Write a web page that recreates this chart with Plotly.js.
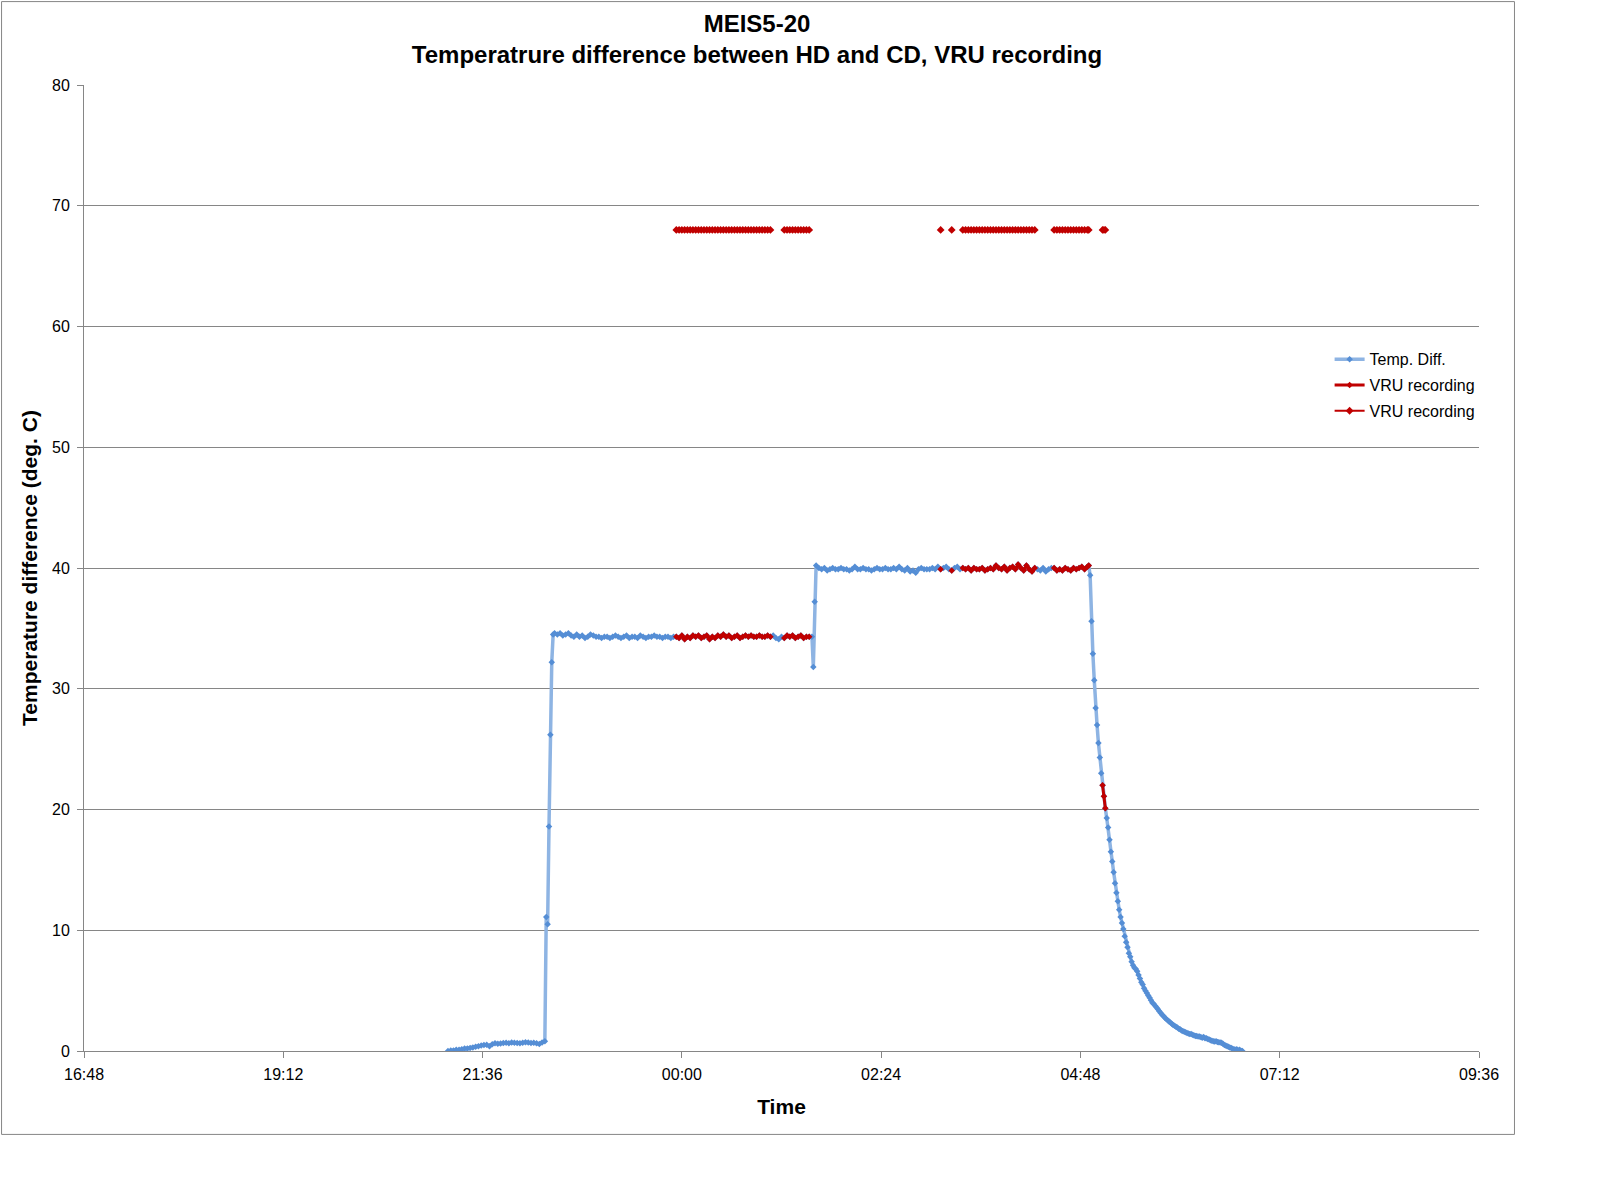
<!DOCTYPE html>
<html>
<head>
<meta charset="utf-8">
<script src="https://cdn.plot.ly/plotly-3.0.1.min.js"></script>
<style>
html,body{margin:0;padding:0;background:#fff;}
#chart{width:1598px;height:1202px;}
</style>
</head>
<body>
<div id="chart"></div>
<script>
// Time is expressed in minutes after 16:48 (axis start)
const tickMinutes = [0, 144, 288, 432, 576, 720, 864, 1008];
const tickLabels = ['16:48', '19:12', '21:36', '00:00', '02:24', '04:48', '07:12', '09:36'];

const earlyTimes = [263,265,267,269,271,273,275,277,279,281,283,285,287,289,291,293,295,297,299,301,303,305,307,309,311,313,315,317,319,321,323,325,327,329,331,333];
const earlyValues = [0.0,0.05,0.05,0.1,0.1,0.15,0.2,0.2,0.25,0.3,0.35,0.4,0.45,0.5,0.52,0.4,0.55,0.65,0.6,0.62,0.66,0.68,0.64,0.7,0.68,0.66,0.64,0.68,0.72,0.7,0.66,0.68,0.64,0.58,0.7,0.8];

const riseTimes = [334,335,336,337,338,339];
const riseValues = [11.1,10.5,18.6,26.2,32.2,34.5];

const plateau1Times = [340,342,344,346,348,350,352,354,356,358,360,362,364,366,368,370,372,374,376,378,380,382,384,386,388,390,392,394,396,398,400,402,404,406,408,410,412,414,416,418,420,422,424,426,428,430,432,434,436,438,440,442,444,446,448,450,452,454,456,458,460,462,464,466,468,470,472,474,476,478,480,482,484,486,488,490,492,494,496,498,500,502,504,506,508,510,512,514,516,518,520,522,524,526];
const plateau1Values = [34.6,34.5,34.6,34.4,34.5,34.6,34.4,34.3,34.5,34.3,34.4,34.2,34.3,34.5,34.4,34.3,34.3,34.2,34.3,34.3,34.2,34.3,34.4,34.3,34.2,34.3,34.4,34.2,34.3,34.3,34.2,34.4,34.3,34.2,34.3,34.3,34.4,34.3,34.3,34.2,34.3,34.3,34.2,34.3,34.3,34.2,34.4,34.1,34.3,34.2,34.4,34.3,34.4,34.2,34.3,34.4,34.1,34.3,34.2,34.4,34.3,34.5,34.3,34.4,34.2,34.3,34.4,34.2,34.3,34.4,34.3,34.4,34.3,34.3,34.4,34.3,34.3,34.4,34.3,34.4,34.2,34.1,34.3,34.2,34.4,34.3,34.4,34.2,34.3,34.4,34.2,34.3,34.3,34.3];

const stepTimes = [527,528];
const stepValues = [31.8,37.2];

const plateau2Times = [529,531,533,535,537,539,541,543,545,547,549,551,553,555,557,559,561,563,565,567,569,571,573,575,577,579,581,583,585,587,589,591,593,595,597,599,601,603,605,607,609,611,613,615,617,619,621,623,625,627,629,631,633,635,637,639,641,643,645,647,649,651,653,655,657,659,661,663,665,667,669,671,673,675,677,679,681,683,685,687,689,691,693,695,697,699,701,703,705,707,709,711,713,715,717,719,721,723,725];
const plateau2Values = [40.2,40.0,39.9,40.0,39.8,39.9,40.0,39.9,39.9,40.0,39.9,39.9,39.8,39.9,40.1,39.9,39.9,40.0,39.9,39.9,39.8,39.9,40.0,39.9,39.9,40.0,39.9,39.9,40.0,39.9,40.1,39.9,39.8,40.0,39.7,39.8,39.6,39.9,40.0,39.9,39.9,39.9,40.0,39.9,40.1,39.9,40.0,40.1,39.9,39.8,40.0,40.1,39.9,40.0,39.9,40.0,39.8,40.0,39.9,39.9,40.0,39.8,39.9,40.0,39.9,40.2,40.0,39.9,40.1,39.8,40.0,40.1,39.9,40.3,40.0,39.8,40.2,39.9,39.7,40.0,39.9,39.8,40.0,39.7,39.9,40.0,40.0,39.8,39.9,39.8,40.0,39.9,39.8,40.0,39.9,40.0,40.1,39.9,40.1];

const descentTimes = [726,727,728,729,730,731,732,733,734,735,736,737,738,739,740,741,742,743,744,745,746,747,748,749,750,751,752,753,754,755,756,757,758,759,760,761,762,763,764,765,766,767,768,769,770,771,772,773,774,775,776,777,778,779,780,781,782,783,784,785,786,787,788,789,790,791,792,793,794,795,796,797,798,799,800,801,802,803,804,805,806,807,808,809,810,811,812,813,814,815,816,817,818,819,820,821,822,823,824,825,826,827,828,829,830,831,832,833,834,835,836,837];
const descentValues = [40.2,39.4,35.6,32.9,30.7,28.4,27.0,25.5,24.3,23.0,22.0,21.1,20.1,19.3,18.5,17.5,16.5,15.7,14.8,13.9,13.1,12.4,11.7,11.1,10.6,10.1,9.5,9.0,8.6,8.1,7.8,7.4,7.1,6.9,6.8,6.6,6.3,6.0,5.7,5.5,5.2,5.0,4.8,4.6,4.4,4.2,4.0,3.9,3.75,3.6,3.45,3.3,3.15,3.0,2.9,2.75,2.65,2.55,2.45,2.35,2.25,2.15,2.1,2.0,1.95,1.85,1.8,1.7,1.65,1.6,1.55,1.5,1.45,1.4,1.4,1.35,1.3,1.25,1.25,1.2,1.2,1.15,1.1,1.15,1.05,1.05,1.0,0.95,0.9,0.85,0.8,0.78,0.8,0.75,0.72,0.7,0.68,0.6,0.5,0.45,0.4,0.35,0.3,0.25,0.18,0.15,0.1,0.15,0.05,0.1,0.03,0.0];

// VRU recording periods (minutes after 16:48), start and end
const vruStart = [428, 505, 619, 627, 634, 701, 736];
const vruEnd   = [496, 525, 619, 627, 688, 726, 738];
const vruMarkerLevel = 68;

const pairs = [[earlyTimes,earlyValues],[riseTimes,riseValues],[plateau1Times,plateau1Values],[stepTimes,stepValues],[plateau2Times,plateau2Values],[descentTimes,descentValues]];
pairs.forEach(function(p, i){ if (p[0].length !== p[1].length) throw new Error('length mismatch in segment ' + i + ': ' + p[0].length + ' vs ' + p[1].length); });

const tempTimes = [].concat(earlyTimes, riseTimes, plateau1Times, stepTimes, plateau2Times, descentTimes);
const tempValues = [].concat(earlyValues, riseValues, plateau1Values, stepValues, plateau2Values, descentValues);

function recording(t){
  for (let i = 0; i < vruStart.length; i++) { if (t >= vruStart[i] && t <= vruEnd[i]) return true; }
  return false;
}
const vruOnLine = tempTimes.map(function(t, i){ return recording(t) ? tempValues[i] : null; });
const vruLevel = tempTimes.map(function(t){ return recording(t) ? vruMarkerLevel : null; });

const FONT = 'Liberation Sans, Arial, sans-serif';
const red = '#C00000';

const traces = [
  {
    x: tempTimes, y: tempValues, name: 'Temp. Diff.', type: 'scatter', mode: 'lines+markers',
    legendgroup: 'g1',
    line: {color: '#8EB4E3', width: 3.5},
    marker: {symbol: 'diamond', size: 5, color: '#558ED5'}
  },
  {
    x: tempTimes, y: vruOnLine, name: 'VRU recording', type: 'scatter', mode: 'lines+markers',
    legendgroup: 'g2', connectgaps: false,
    line: {color: red, width: 3},
    marker: {symbol: 'diamond', size: 5, color: red}
  },
  {
    x: tempTimes, y: vruLevel, name: 'VRU recording', type: 'scatter', mode: 'lines+markers',
    legendgroup: 'g3', connectgaps: false,
    line: {color: red, width: 2},
    marker: {symbol: 'diamond', size: 6, color: red}
  }
];

const grey = '#868686';
const L = 83.5, T = 84.5, R = 1479.5, B = 1051.5, W = 1598, H = 1202;
const pw = R - L, ph = B - T;

const layout = {
  width: W, height: H,
  paper_bgcolor: '#fff', plot_bgcolor: '#fff',
  margin: {l: L, r: W - R, t: T, b: H - B, pad: 0},
  font: {family: FONT, color: '#000', size: 16},
  showlegend: true,
  title: {
    text: '<b>MEIS5-20</b><br><b>Temperatrure difference between HD and CD, VRU recording</b>',
    font: {family: FONT, size: 24, color: '#000'},
    x: 757 / W, xref: 'container', xanchor: 'center',
    y: 1 - 32 / H, yref: 'container', yanchor: 'top'
  },
  xaxis: {
    range: [0, 1008],
    tickmode: 'array', tickvals: tickMinutes, ticktext: tickLabels,
    showgrid: false, zeroline: false,
    showline: true, linecolor: grey, linewidth: 1,
    ticks: 'outside', ticklen: 6, tickcolor: grey, tickwidth: 1,
    ticklabelstandoff: 3,
    tickfont: {family: FONT, size: 16, color: '#000'},
    title: {text: '<b>Time</b>', font: {family: FONT, size: 21, color: '#000'}, standoff: 17}
  },
  yaxis: {
    range: [0, 80], tickmode: 'linear', tick0: 0, dtick: 10,
    showgrid: true, gridcolor: grey, gridwidth: 1,
    zeroline: false,
    showline: true, linecolor: grey, linewidth: 1,
    ticks: 'outside', ticklen: 6, tickcolor: grey, tickwidth: 1,
    ticklabelstandoff: 4,
    tickfont: {family: FONT, size: 16, color: '#000'},
    title: {text: '<b>Temperature difference (deg. C)</b>', font: {family: FONT, size: 21, color: '#000'}, standoff: 8}
  },
  legend: {
    x: (1330 - L) / pw, xanchor: 'left',
    y: (B - 342) / ph, yanchor: 'top',
    bgcolor: 'rgba(0,0,0,0)', borderwidth: 0,
    tracegroupgap: 2,
    font: {family: FONT, size: 16, color: '#000'},
    itemwidth: 30
  },
  shapes: [{
    type: 'rect', xref: 'paper', yref: 'paper', layer: 'above',
    x0: (1 - L) / pw, x1: (1515 - L) / pw,
    y0: (B - 1135) / ph, y1: (B - 1) / ph,
    line: {color: grey, width: 1}, fillcolor: 'rgba(0,0,0,0)'
  }]
};

Plotly.newPlot('chart', traces, layout, {displayModeBar: false, staticPlot: true});
</script>
</body>
</html>
